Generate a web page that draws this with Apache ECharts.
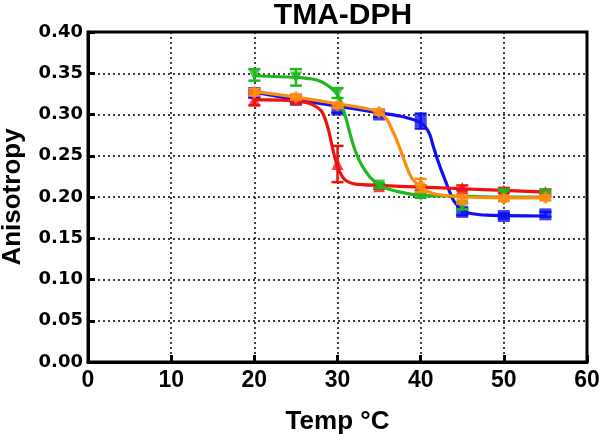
<!DOCTYPE html>
<html><head><meta charset="utf-8">
<script src="https://cdn.jsdelivr.net/npm/echarts@6/dist/echarts.min.js"></script>
<style>html,body{margin:0;padding:0;background:#fff}#c{width:600px;height:434px}</style>
</head><body><div id="c"></div>
<script>
// measured points (Temp °C)
const temps = [20, 25, 30, 35, 40, 45, 50, 55];
const blueVals = [0.326, 0.318, 0.306, 0.300, 0.292, 0.182, 0.177, 0.179];
const blueErr  = [0.005, 0.003, 0.004, 0.003, 0.009, 0.004, 0.003, 0.003];
const redVals  = [0.318, 0.318, 0.240, 0.213, 0.211, 0.211, 0.208, 0.206];
const redErr   = [0.007, 0.003, 0.022, 0.003, 0.003, 0.003, 0.003, 0.003];
const greenVals = [0.348, 0.345, 0.326, 0.214, 0.202, 0.189, 0.204, 0.203];
const greenErr  = [0.007, 0.010, 0.006, 0.003, 0.003, 0.004, 0.004, 0.003];
const orangeVals = [0.327, 0.321, 0.311, 0.303, 0.214, 0.197, 0.198, 0.199];
const orangeErr  = [0.004, 0.003, 0.003, 0.003, 0.008, 0.005, 0.003, 0.003];

// fitted curves
const blueCurveX = [20, 25, 30, 35, 38, 40, 41, 41.5, 42, 42.5, 43, 43.5, 44, 45, 46, 48, 55];
const blueCurveY = [0.327, 0.318, 0.310, 0.302, 0.297, 0.290, 0.278, 0.262, 0.246, 0.232, 0.219, 0.206, 0.195, 0.184, 0.180, 0.178, 0.177];
const redCurveX = [20, 24, 26, 27, 28, 28.5, 29, 29.5, 30, 30.5, 31, 32, 35, 40, 45, 50, 55];
const redCurveY = [0.318, 0.317, 0.315, 0.312, 0.305, 0.295, 0.278, 0.255, 0.237, 0.226, 0.220, 0.216, 0.214, 0.212, 0.210, 0.208, 0.206];
const greenCurveX = [20, 25, 27, 28, 29, 30, 30.5, 31, 31.5, 32, 32.5, 33, 34, 35, 36, 38, 40, 45, 50, 55];
const greenCurveY = [0.347, 0.345, 0.343, 0.340, 0.334, 0.324, 0.312, 0.296, 0.277, 0.260, 0.247, 0.237, 0.223, 0.215, 0.210, 0.205, 0.202, 0.201, 0.200, 0.200];
const orangeCurveX = [20, 25, 30, 33, 35, 36, 36.5, 37, 37.5, 38, 38.5, 39, 40, 41, 42, 45, 50, 55];
const orangeCurveY = [0.328, 0.321, 0.313, 0.308, 0.303, 0.293, 0.283, 0.272, 0.259, 0.245, 0.232, 0.222, 0.212, 0.206, 0.203, 0.200, 0.199, 0.199];

const xTicks = [0, 10, 20, 30, 40, 50, 60];
const yTicks = [0, 0.05, 0.10, 0.15, 0.20, 0.25, 0.30, 0.35, 0.40];

const FONT = '"Liberation Sans", Arial, sans-serif';
const WIDEFONT = '"DejaVu Sans", sans-serif';
const zip = (a, b) => a.map((v, i) => [v, b[i]]);

function errSeries(vals, errs, color, z) {
  return {
    type: 'custom', z: z,
    data: temps.map((t, i) => [t, vals[i] - errs[i], vals[i] + errs[i]]),
    renderItem: function (params, api) {
      const lo = api.coord([api.value(0), api.value(1)]);
      const hi = api.coord([api.value(0), api.value(2)]);
      const w = 6;
      const st = { stroke: color, lineWidth: 2.5 };
      return { type: 'group', children: [
        { type: 'line', shape: { x1: lo[0], y1: lo[1], x2: hi[0], y2: hi[1] }, style: st },
        { type: 'line', shape: { x1: lo[0] - w, y1: lo[1], x2: lo[0] + w, y2: lo[1] }, style: st },
        { type: 'line', shape: { x1: hi[0] - w, y1: hi[1], x2: hi[0] + w, y2: hi[1] }, style: st }
      ]};
    }
  };
}
function curveSeries(xs, ys, color, z) {
  return { type: 'line', data: zip(xs, ys), smooth: 0.3, showSymbol: false, z: z,
    lineStyle: { color: color, width: 3.2 }, silent: true };
}
function ptSeries(vals, color, symbol, size, rot, z) {
  return { type: 'scatter', data: zip(temps, vals), symbol: symbol, symbolSize: size,
    symbolRotate: rot, itemStyle: { color: color }, z: z };
}

const BLUE = '#1010f0', RED = '#f01010', GREEN = '#20b820', ORANGE = '#ff8c10';

const chart = echarts.init(document.getElementById('c'), null, { renderer: 'canvas' });
chart.setOption({
  animation: false,
  title: { text: 'TMA-DPH', left: 338, top: -4, textAlign: 'center',
    textStyle: { fontFamily: FONT, fontWeight: 'bold', fontSize: 30, color: '#000' } },
  grid: { left: 88, right: 13, top: 32, bottom: 72, containLabel: false, outerBoundsMode: 'none',
    show: true, borderColor: '#000', borderWidth: 3 },
  xAxis: {
    type: 'value', min: xTicks[0], max: xTicks[xTicks.length - 1], interval: 10,
    name: 'Temp °C', nameLocation: 'middle', nameGap: 47,
    nameTextStyle: { fontFamily: FONT, fontWeight: 'bold', fontSize: 26, color: '#000' },
    axisLine: { lineStyle: { color: '#000', width: 3 } },
    axisTick: { inside: true, length: 7, lineStyle: { color: '#000', width: 3 } },
    axisLabel: { fontFamily: FONT, fontWeight: 'bold', fontSize: 23, color: '#000', margin: 7 },
    splitLine: { show: true, lineStyle: { color: '#000', width: 1.5, type: [2, 3] } }
  },
  yAxis: {
    type: 'value', min: yTicks[0], max: yTicks[yTicks.length - 1], interval: 0.05,
    name: 'Anisotropy', nameLocation: 'middle', nameGap: 62,
    nameTextStyle: { fontFamily: FONT, fontWeight: 'bold', fontSize: 26, color: '#000' },
    axisLine: { lineStyle: { color: '#000', width: 3 } },
    axisTick: { inside: true, length: 7, lineStyle: { color: '#000', width: 3 } },
    axisLabel: { fontFamily: WIDEFONT, fontWeight: 'bold', fontSize: 18, color: '#000', margin: 5,
      formatter: v => v.toFixed(2) },
    splitLine: { show: true, lineStyle: { color: '#000', width: 1.5, type: [2, 3] } }
  },
  series: [
    errSeries(blueVals, blueErr, BLUE, 2),
    curveSeries(blueCurveX, blueCurveY, BLUE, 2),
    ptSeries(blueVals, BLUE, 'rect', 12, 0, 3),
    errSeries(redVals, redErr, RED, 4),
    curveSeries(redCurveX, redCurveY, RED, 4),
    ptSeries(redVals, RED, 'triangle', 12, 0, 5),
    errSeries(greenVals, greenErr, GREEN, 6),
    curveSeries(greenCurveX, greenCurveY, GREEN, 6),
    ptSeries(greenVals, GREEN, 'triangle', 12, 180, 7),
    errSeries(orangeVals, orangeErr, ORANGE, 8),
    curveSeries(orangeCurveX, orangeCurveY, ORANGE, 8),
    ptSeries(orangeVals, ORANGE, 'diamond', 13, 0, 9)
  ]
});
</script></body></html>
